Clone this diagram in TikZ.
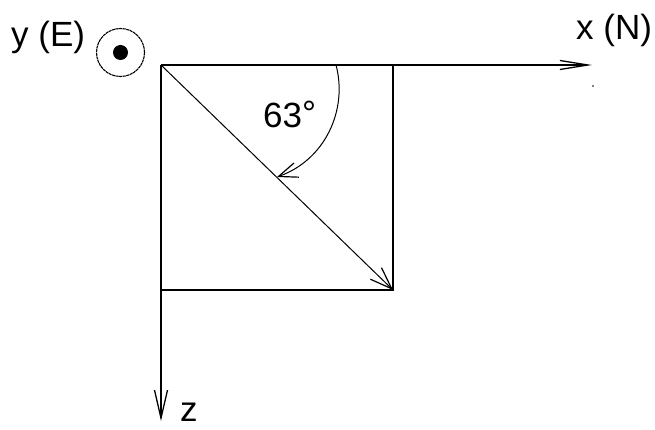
\documentclass[tikz,border=0pt]{standalone}
\usepackage{fontspec}
\setmainfont{Liberation Sans}
\usetikzlibrary{arrows.meta}
\begin{document}
\begin{tikzpicture}[x=1pt,y=-1pt,
  lbl/.style={inner sep=0pt,font=\fontsize{35}{40}\selectfont},
  axis/.style={line width=1.5pt},
  thin/.style={line width=1pt}]
\useasboundingbox[fill=white] (0,0) rectangle (655,430);
% points
\coordinate (O) at (161,65);
\coordinate (X) at (592,65);
\coordinate (Z) at (161,421);
\coordinate (TR) at (393,65);
\coordinate (BR) at (393,290);
\coordinate (BL) at (161,290);
\coordinate (A0) at (336,65);
\coordinate (A1) at (277,177);
% axes
\draw[axis,-{Straight Barb[length=28pt,width=9pt,line width=1.3pt]}] (O) -- (X);
\draw[axis,-{Straight Barb[length=28pt,width=13pt,line width=1.3pt]}] (O) -- (Z);
% square
\draw[axis] (TR) -- (BR) -- (BL);
% diagonal vector
\draw[thin,-{Straight Barb[length=22pt,width=16pt,line width=1.2pt]}] (O) -- (BR);
% angle arc
\draw[thin,-{Straight Barb[length=19pt,width=15pt,line width=1.2pt]}] (A0) .. controls (348,110) and (325,160) .. (A1);
% out-of-page symbol
\node[draw,circle,line width=1.1pt,dashed,dash pattern=on 3pt off 0.6pt,minimum size=48pt,inner sep=0pt] (Y) at (120.5,52.5) {};
\fill (Y.center) circle (7.5pt);
% labels
\node[lbl,anchor=base west] (ly) at (11,47) {y (E)};
\node[lbl,anchor=base west] (lx) at (576,40) {x (N)};
\node[lbl,anchor=base west] (la) at (263,128) {63\raisebox{2pt}{°}};
\node[lbl,anchor=base west,text depth=0pt] (lz) at (180,421) {z};
\fill (593,86) circle (0.8pt);
\end{tikzpicture}
\end{document}
